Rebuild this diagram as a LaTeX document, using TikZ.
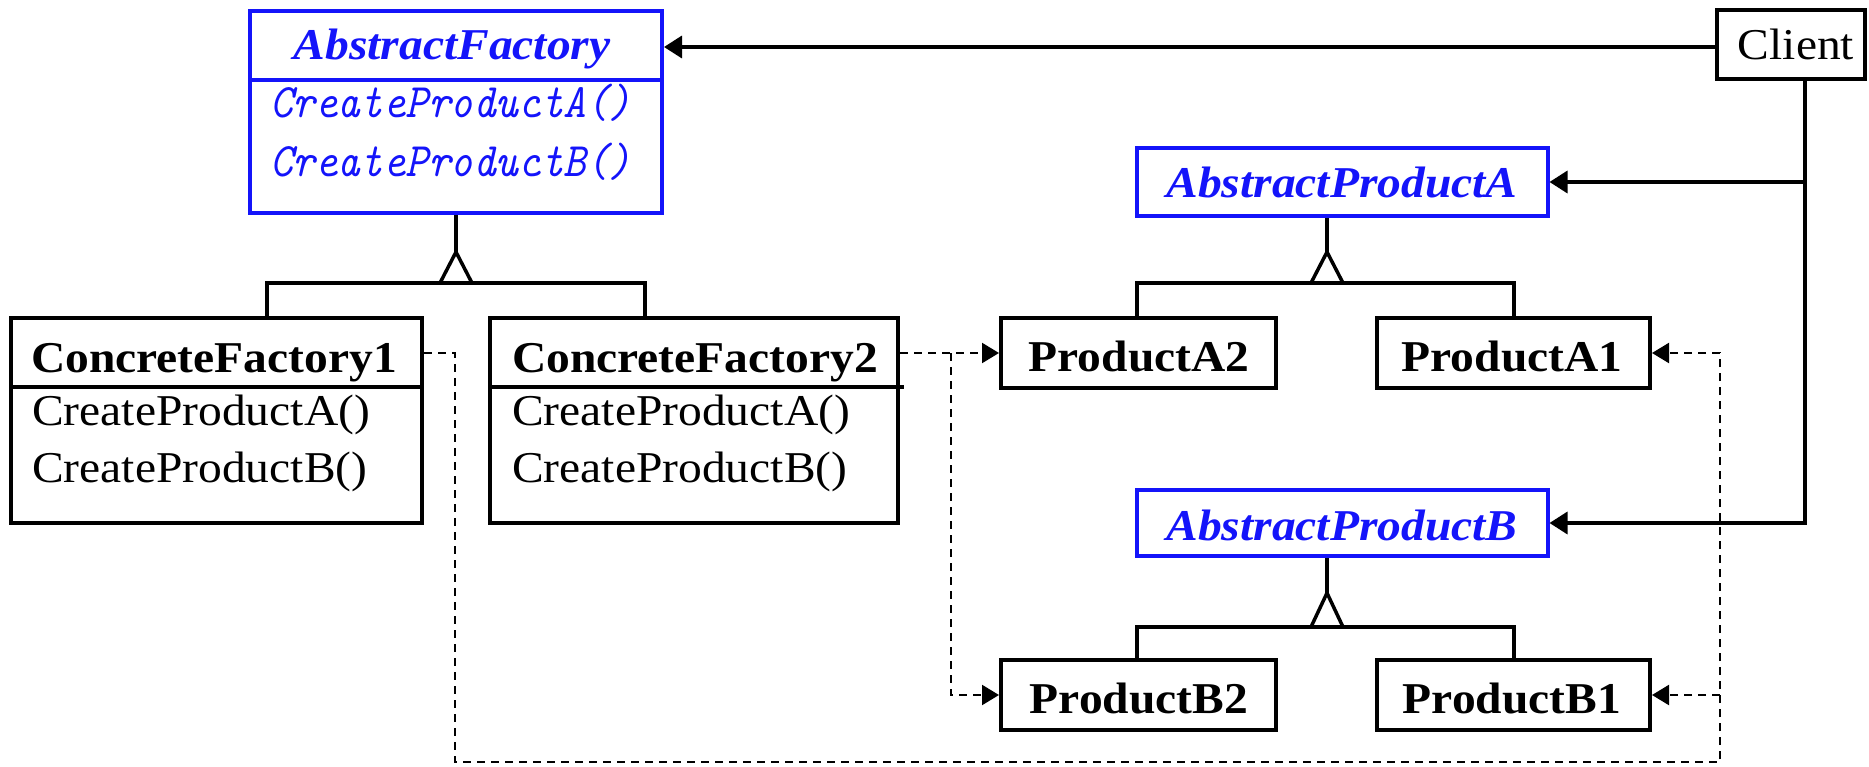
\documentclass[tikz,border=0pt]{standalone}
\usepackage{fontspec}
\setmainfont{Liberation Serif}
\usepackage{graphicx}
\usetikzlibrary{arrows.meta}
\definecolor{umlblue}{RGB}{20,20,250}
% slightly widened lettering for class names and operations
\newcommand{\wtxt}[1]{\scalebox{1.08}[1]{#1}}
% slightly taller lettering for the abstract operations
\newcommand{\ttxt}[1]{\scalebox{1}[1.12]{#1}}
\begin{document}
\begin{tikzpicture}[x=1pt,y=-1pt,
  classbox/.style={draw=black, line width=4pt, inner sep=0pt, fill=white},
  abstractbox/.style={classbox, draw=umlblue},
  divider/.style={line width=4pt},
  txt/.style={inner sep=0pt, font=\fontsize{44}{52}\selectfont},
  cname/.style={txt, anchor=base, font=\fontsize{44}{52}\selectfont\bfseries},
  aname/.style={txt, anchor=base, text=umlblue, font=\fontsize{44}{52}\selectfont\bfseries\itshape},
  op/.style={txt, anchor=base west},
  aop/.style={inner sep=0pt, anchor=base west, text=umlblue, font=\fontsize{43}{50}\selectfont\ttfamily\itshape},
  assoc/.style={line width=3.5pt, -{Triangle[length=18pt,width=22pt]}},
  inherit/.style={line width=3.5pt, line join=miter},
  dep/.style={line width=2.2pt, dash pattern=on 8pt off 6pt, -{Triangle[length=17pt,width=20pt]}}
]
\useasboundingbox (0,0) rectangle (1869,767);

% ---- classes ----
\node[abstractbox, minimum width=412pt, minimum height=202pt] (af) at (456,112.5) {};
\draw[divider, umlblue] (af.west |- 0,80) -- (af.east |- 0,80);
\node[aname] (aft) at (452,60) {\wtxt{AbstractFactory}};
\node[aop] (afa) at (270,118) {\ttxt{CreateProductA()}};
\node[aop] (afb) at (270,177) {\ttxt{CreateProductB()}};

\node[classbox, minimum width=148pt, minimum height=69pt] (client) at (1791,44.5) {};
\node[txt, anchor=base] (clt) at (1796,60) {\wtxt{Client}};

\node[abstractbox, minimum width=411pt, minimum height=68pt] (apa) at (1342,182) {};
\node[aname] (apat) at (1342,198) {\wtxt{AbstractProductA}};

\node[abstractbox, minimum width=411pt, minimum height=66pt] (apb) at (1342,523) {};
\node[aname] (apbt) at (1342,540) {\wtxt{AbstractProductB}};

\node[classbox, minimum width=411pt, minimum height=205pt] (cf1) at (216.5,420.5) {};
\draw[divider] (cf1.west |- 0,387) -- (cf1.east |- 0,387);
\node[cname] (cf1t) at (214,372) {\wtxt{ConcreteFactory1}};
\node[op] (cf1a) at (32,425) {\wtxt{CreateProductA()}};
\node[op] (cf1b) at (32,482) {\wtxt{CreateProductB()}};

\node[classbox, minimum width=408pt, minimum height=205pt] (cf2) at (694,420.5) {};
\draw[divider] (cf2.west |- 0,387) -- ([xshift=4pt]cf2.east |- 0,387);
\node[cname] (cf2t) at (695,372) {\wtxt{ConcreteFactory2}};
\node[op] (cf2a) at (512,425) {\wtxt{CreateProductA()}};
\node[op] (cf2b) at (512,482) {\wtxt{CreateProductB()}};

\node[classbox, minimum width=275pt, minimum height=70pt] (pa2) at (1138.5,353) {};
\node[cname] (pa2t) at (1139,371) {\wtxt{ProductA2}};
\node[classbox, minimum width=273pt, minimum height=70pt] (pa1) at (1513.5,353) {};
\node[cname] (pa1t) at (1512,371) {\wtxt{ProductA1}};

\node[classbox, minimum width=275pt, minimum height=70pt] (pb2) at (1138.5,695) {};
\node[cname] (pb2t) at (1139,713) {\wtxt{ProductB2}};
\node[classbox, minimum width=273pt, minimum height=70pt] (pb1) at (1513.5,695) {};
\node[cname] (pb1t) at (1512,713) {\wtxt{ProductB1}};

% ---- inheritance: factories ----
\coordinate (fapex) at (456,252);
\coordinate (fl) at (267,283);
\coordinate (fr) at (645,283);
\draw[inherit] (af.south) -- (fapex);
\draw[inherit] (fapex) -- ++(-16,31) -- ++(32,0) -- cycle;
\draw[inherit] (fl |- cf1.north) |- (fr) -- (fr |- cf2.north);

% ---- inheritance: products A ----
\coordinate (aapex) at (1327,252);
\coordinate (al) at (1137,283);
\coordinate (ar) at (1514,283);
\draw[inherit] (aapex |- apa.south) -- (aapex);
\draw[inherit] (aapex) -- ++(-16,31) -- ++(32,0) -- cycle;
\draw[inherit] (al |- pa2.north) |- (ar) -- (ar |- pa1.north);

% ---- inheritance: products B ----
\coordinate (bapex) at (1327,593);
\coordinate (bl) at (1137,627);
\coordinate (br) at (1514,627);
\draw[inherit] (bapex |- apb.south) -- (bapex);
\draw[inherit] (bapex) -- ++(-16,34) -- ++(32,0) -- cycle;
\draw[inherit] (bl |- pb2.north) |- (br) -- (br |- pb1.north);

% ---- client associations ----
\coordinate (cv) at (1805,0);
\draw[assoc] (client.west |- 0,47) -- (af.east |- 0,47);
\draw[assoc] (cv |- client.south) |- (apb.east);
\draw[assoc] (cv |- apa.east) -- (apa.east);

% ---- creation dependencies ----
\coordinate (d1) at (455,762);
\coordinate (d2) at (1720,762);
\coordinate (d3) at (951,353);
\draw[dep] (cf1.east |- pa1.east) -| (d1) -- (d2) |- (pa1.east);
\draw[dep] (d2 |- pb1.east) -- (pb1.east);
\draw[dep] (cf2.east |- pa2.west) -- (pa2.west);
\draw[dep] (d3) |- (pb2.west);
\end{tikzpicture}
\end{document}
